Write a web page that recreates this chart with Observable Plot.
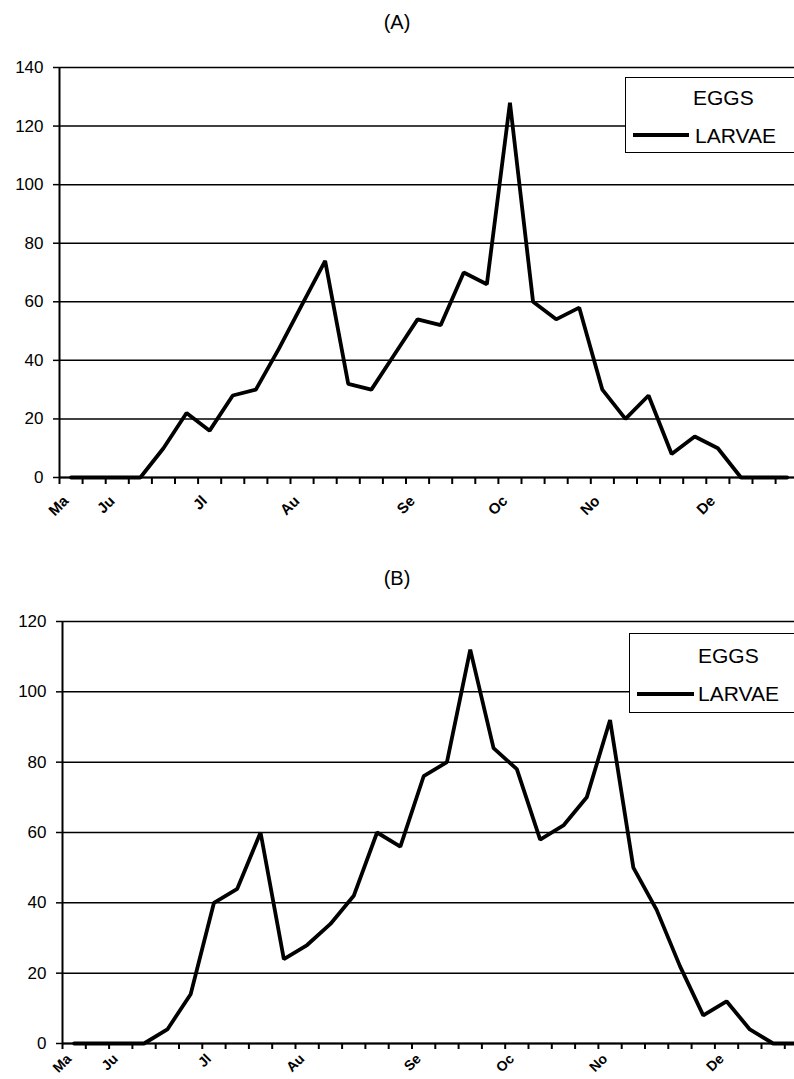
<!DOCTYPE html>
<html><head><meta charset="utf-8">
<script src="https://cdn.jsdelivr.net/npm/d3@7"></script>
<script src="https://cdn.jsdelivr.net/npm/@observablehq/plot@0.6"></script>
<style>
body{margin:0;width:794px;height:1079px;overflow:hidden;background:#fff;font-family:"Liberation Sans",Arial,sans-serif;position:relative;color:#000}
.title{position:absolute;left:0;width:794px;text-align:center;font-size:20px;line-height:20px}
.panel{position:absolute;left:0}
.legend{position:absolute;border:1.5px solid #000;background:#fff;font-size:21px;width:200px;box-sizing:border-box}
.legend .row{position:absolute;left:0;white-space:nowrap;line-height:21px}
.legend .sample{position:absolute;height:3.5px;background:#000}
</style>
</head><body>
<div class="title" style="top:12px">(A)</div>
<div id="a" class="panel" style="top:40px"></div>
<div class="title" style="top:568px">(B)</div>
<div id="b" class="panel" style="top:600px"></div>
<div class="legend" style="left:625px;top:77px;height:76px">
  <div class="row" style="left:67px;top:9px">EGGS</div>
  <div class="sample" style="left:7px;top:55px;width:56px"></div>
  <div class="row" style="left:69px;top:47px">LARVAE</div>
</div>
<div class="legend" style="left:629px;top:633px;height:80px">
  <div class="row" style="left:68px;top:11px">EGGS</div>
  <div class="sample" style="left:7px;top:58px;width:57px"></div>
  <div class="row" style="left:68px;top:49px">LARVAE</div>
</div>
<script>
// weekly sampling, 32 weeks; month labels placed on the first week of each month
const monthLabels = ["Ma", "Ju", "Jl", "Au", "Se", "Oc", "No", "De"];
const monthLabelWeeks = [0, 2, 6, 10, 15, 19, 23, 28];
const seriesNames = ["EGGS", "LARVAE"];
// (A) larvae counts per week
const larvaeA = [0,0,0,0,10,22,16,28,30,44,59,74,32,30,42,54,52,70,66,128,60,54,58,30,20,28,8,14,10,0,0,0];
// (B) larvae counts per week
const larvaeB = [0,0,0,0,4,14,40,44,60,24,28,34,42,60,56,76,80,112,84,78,58,62,70,92,50,38,22,8,12,4,0,0];
const yTicksA = [0,20,40,60,80,100,120,140];
const yTicksB = [0,20,40,60,80,100,120];

function panel(values, yTicks, opts) {
  const data = values.map((v, i) => ({week: i, value: v}));
  const labels = monthLabels.map((m, i) => ({label: m, week: monthLabelWeeks[i]}));
  const ymax = yTicks[yTicks.length - 1];
  return Plot.plot({
    width: 794,
    height: opts.height,
    marginLeft: opts.marginLeft,
    marginRight: 0,
    marginTop: opts.marginTop,
    marginBottom: opts.marginBottom,
    style: {fontFamily: "'Liberation Sans', Arial, sans-serif", fontSize: "17px", color: "#000", background: "#fff"},
    x: {type: "linear", domain: [0, opts.xmax], axis: null},
    y: {type: "linear", domain: [0, ymax], axis: null, label: null},
    marks: [
      Plot.gridY({ticks: yTicks, stroke: "#000", strokeOpacity: 1, strokeWidth: 1.5}),
      Plot.axisY({ticks: yTicks, tickSize: 6, tickPadding: 10, stroke: "#000", strokeWidth: 1.5, fontSize: 17, label: null}),
      Plot.ruleX([0], {y1: 0, y2: ymax, stroke: "#000", strokeWidth: 2}),
      Plot.ruleY([0], {stroke: "#000", strokeWidth: 2}),
      Plot.axisX({ticks: d3.range(0, 33), tickSize: opts.tickSize, tickFormat: () => "", stroke: "#000", strokeWidth: 2, strokeOpacity: 1, label: null}),
      Plot.text(labels, {x: d => d.week + 0.5, y: () => 0, text: "label", rotate: -45, textAnchor: "end", lineAnchor: "middle", dx: -5, dy: opts.labelDy, fontSize: opts.labelSize, fontWeight: "bold"}),
      Plot.line(data, {x: d => d.week + 0.5, y: "value", stroke: "#000", strokeWidth: 3.8, strokeLinejoin: "miter"})
    ]
  });
}

const a = panel(larvaeA, yTicksA, {height: 497, marginLeft: 59, marginTop: 27, marginBottom: 60, xmax: (794 - 59) / 23.1, tickSize: 7, labelDy: 21, labelSize: 15});
document.getElementById("a").appendChild(a);
const b = panel(larvaeB, yTicksB, {height: 479, marginLeft: 62, marginTop: 21, marginBottom: 36, xmax: (794 - 62) / 23.3, tickSize: 6, labelDy: 13, labelSize: 14});
document.getElementById("b").appendChild(b);
</script>
</body></html>
